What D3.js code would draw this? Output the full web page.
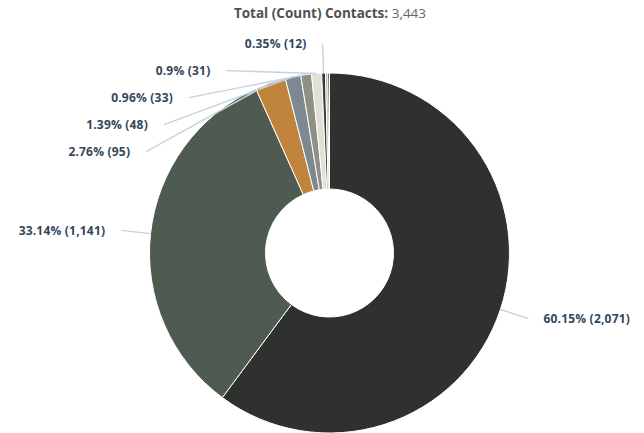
<!DOCTYPE html>
<html>
<head>
<meta charset="utf-8">
<script src="https://cdn.jsdelivr.net/npm/d3@7"></script>
<style>
  html, body { margin: 0; padding: 0; background: #ffffff; }
  svg { display: block; }
</style>
</head>
<body>
<svg id="chart" width="644" height="433"></svg>
<script>
// ---- data ----
const titleLabel = "Total (Count) Contacts:";
const categories = ["Slice 1", "Slice 2", "Slice 3", "Slice 4", "Slice 5", "Slice 6", "Slice 7", "Slice 8", "Slice 9"];
const values = [2071, 1141, 95, 48, 33, 31, 12, 7, 5];
const colors = ["#2f312e", "#4f5a51", "#c0843c", "#7d8891", "#8e8f85", "#e2e0d5", "#3a3b38", "#a6a8a1", "#2f312e"];
const labelled = [true, true, true, true, true, true, true, false, false];

// ---- layout ----
const W = 644, H = 433;
const cx = 329.5, cy = 253;
const rOuter = 180, rInner = 64;
const rLabel = 209.5;
const labelSpacing = 27;

const total = d3.sum(values);
const fmtInt = d3.format(",");
const svg = d3.select("#chart");

// title
const title = svg.append("text")
  .attr("x", 330).attr("y", 18)
  .attr("text-anchor", "middle")
  .style("font-family", "'Open Sans', Lato, sans-serif")
  .style("font-size", "13.5px");
title.append("tspan").attr("font-weight", 700).attr("fill", "#505050").text(titleLabel + " ");
title.append("tspan").attr("font-weight", 400).attr("fill", "#666666").text(fmtInt(total));

const data = values.map((v, i) => ({ name: categories[i], value: v, color: colors[i], labelled: labelled[i], idx: i }));

const pie = d3.pie().value(d => d.value).sort(null).startAngle(0).endAngle(2 * Math.PI);
const arcs = pie(data);
const arc = d3.arc().innerRadius(rInner).outerRadius(rOuter);

const g = svg.append("g").attr("transform", `translate(${cx},${cy})`);

g.selectAll("path.slice")
  .data(arcs)
  .join("path")
  .attr("class", "slice")
  .attr("d", arc)
  .attr("fill", d => d.data.color)
  .attr("stroke", "#ffffff")
  .attr("stroke-width", 1)
  .attr("stroke-linejoin", "round");

// ---- labels ----
const labs = arcs.filter(a => a.data.labelled).map(a => {
  const mid = (a.startAngle + a.endAngle) / 2;
  return {
    a, mid,
    left: mid > Math.PI,
    natY: -rLabel * Math.cos(mid),
    natX: rLabel * Math.sin(mid)
  };
});

function distribute(list) {
  list.sort((p, q) => p.natY - q.natY);
  let prev = -Infinity;
  list.forEach(l => {
    l.y = Math.max(l.natY, prev + labelSpacing);
    prev = l.y;
    if (Math.abs(l.y - l.natY) < 0.5) {
      l.x = l.natX;
    } else {
      const dx = Math.sqrt(Math.max(0, rLabel * rLabel - l.y * l.y));
      l.x = l.left ? -dx : dx;
    }
  });
}
distribute(labs.filter(l => l.left));
distribute(labs.filter(l => !l.left));

const pct = v => {
  const p = Math.round(v / total * 10000) / 100;
  return d3.format("")(p) + "%";
};

g.selectAll("path.conn")
  .data(labs)
  .join("path")
  .attr("class", "conn")
  .attr("fill", "none")
  .attr("stroke", "#c5d2df")
  .attr("stroke-width", 1.4)
  .attr("d", l => {
    const ex = rOuter * Math.sin(l.mid), ey = -rOuter * Math.cos(l.mid);
    return `M${l.x},${l.y}L${ex},${ey}`;
  });

g.selectAll("text.lab")
  .data(labs)
  .join("text")
  .attr("class", "lab")
  .attr("x", l => l.left ? l.x - 16 : l.x + 15)
  .attr("y", l => l.y)
  .attr("dy", "0.35em")
  .attr("text-anchor", l => l.left ? "end" : "start")
  .style("font-family", "'Open Sans', Lato, sans-serif")
  .style("font-size", "12px")
  .style("font-weight", 700)
  .style("letter-spacing", "0.2px")
  .attr("fill", "#33475b")
  .text(l => `${pct(l.a.data.value)} (${fmtInt(l.a.data.value)})`);
</script>
</body>
</html>
